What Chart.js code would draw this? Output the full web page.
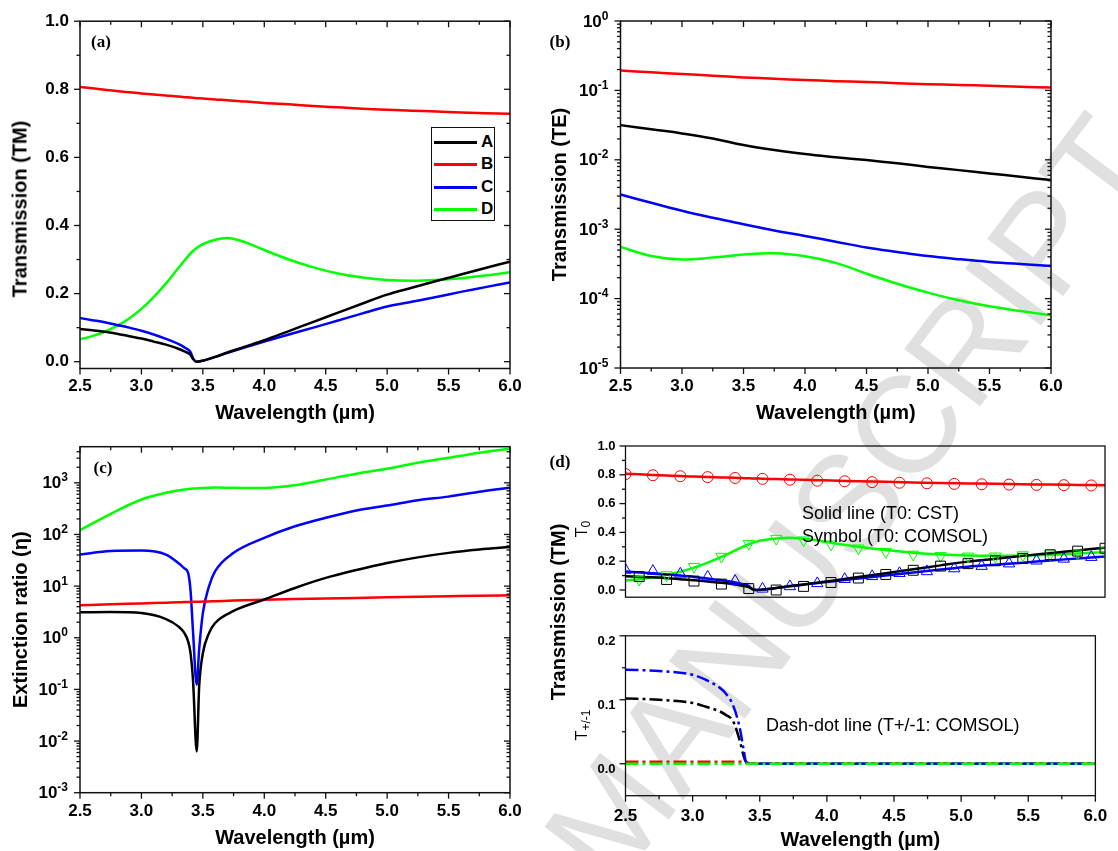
<!DOCTYPE html>
<html>
<head>
<meta charset="utf-8">
<title>Transmission and extinction ratio</title>
<script src="https://cdn.jsdelivr.net/npm/chart.js@4.4.1/dist/chart.umd.min.js"></script>
<style>
  body { margin: 0; background: #fff; width: 1118px; height: 851px; overflow: hidden; position: relative;
         font-family: Arial, "Liberation Sans", sans-serif; }
  canvas { position: absolute; z-index: 1; }
  .txt { position: absolute; z-index: 2; white-space: nowrap; color: #000; }
  .rot { transform: translate(-50%, -50%) rotate(-90deg); }
  .ctr { transform: translate(-50%, -50%); }
  .tag { font: bold 17px "Liberation Serif", "Times New Roman", serif; }
  .ytitle { font-weight: bold; font-size: 20px; }
  .sub { font-size: 16px; }
  .sub sub { font-size: 12px; vertical-align: -3px; }
  .note { font-size: 18px; transform: translateY(-50%); }
  #mark { position: absolute; z-index: 0; left: 850px; top: 500px; white-space: nowrap;
          transform: translate(-50%, -50%) rotate(-53deg);
          font: 138px Arial, "Liberation Sans", sans-serif; color: #e0e0e0; }
  #legendA { position: absolute; z-index: 2; left: 431px; top: 127px; width: 62px; height: 92px;
             border: 1px solid #111; background: #fff; }
  #legendA .row { position: absolute; left: 2px; height: 20px; width: 60px; }
  #legendA .ln { position: absolute; left: 0; top: 9px; width: 43px; height: 0; border-top: 3px solid; }
  #legendA .lb { position: absolute; left: 47px; top: 0; font: bold 17px Arial, "Liberation Sans", sans-serif; line-height: 20px; }
</style>
</head>
<body>
<div id="mark">MANUSCRIPT</div>

<canvas id="chartA" width="540" height="428" style="left:0;top:0"></canvas>
<canvas id="chartB" width="578" height="428" style="left:540px;top:0"></canvas>
<canvas id="chartC" width="540" height="431" style="left:0;top:420px"></canvas>
<canvas id="chartD1" width="578" height="195" style="left:540px;top:420px"></canvas>
<canvas id="chartD2" width="578" height="237" style="left:540px;top:618px"></canvas>

<div class="txt tag ctr" style="left:101px;top:42px">(a)</div>
<div class="txt tag ctr" style="left:560px;top:42px">(b)</div>
<div class="txt tag ctr" style="left:103px;top:468px">(c)</div>
<div class="txt tag ctr" style="left:560px;top:462px">(d)</div>

<div class="txt ytitle rot" style="left:20px;top:209px">Transmission (TM)</div>
<div class="txt ytitle rot" style="left:558px;top:612px">Transmission (TM)</div>
<div class="txt sub rot" style="left:583px;top:529px">T<sub>0</sub></div>
<div class="txt sub rot" style="left:583px;top:725px">T<sub>+/-1</sub></div>

<div class="txt note" style="left:802px;top:513px">Solid line (T0: CST)</div>
<div class="txt note" style="left:802px;top:536px">Symbol (T0: COMSOL)</div>
<div class="txt note" style="left:766px;top:725px">Dash-dot line (T+/-1: COMSOL)</div>

<div id="legendA"></div>

<script>
// ---- data ----
const seriesNames = ['A', 'B', 'C', 'D'];
const seriesColors = ['#000000', '#ff0000', '#0000ff', '#00ff00'];

// (a) TM transmission, also the solid lines of (d)
const wlA = [2.5, 2.6, 2.7, 2.8, 2.9, 3.0, 3.1, 3.2, 3.3, 3.35, 3.4, 3.42, 3.45, 3.5, 3.6, 3.7, 3.8, 3.9, 4.0, 4.2, 4.4, 4.6, 4.8, 5.0, 5.2, 5.4, 5.6, 5.8, 6.0];
const tmA = [0.096, 0.092, 0.088, 0.082, 0.075, 0.068, 0.059, 0.050, 0.038, 0.030, 0.020, 0.008, 0.000, 0.003, 0.014, 0.027, 0.039, 0.051, 0.063, 0.090, 0.117, 0.144, 0.171, 0.197, 0.217, 0.237, 0.256, 0.275, 0.294];
const tmB = [0.807, 0.803, 0.799, 0.795, 0.791, 0.788, 0.785, 0.782, 0.779, 0.777, 0.776, 0.775, 0.774, 0.773, 0.770, 0.768, 0.765, 0.763, 0.760, 0.756, 0.751, 0.747, 0.743, 0.740, 0.737, 0.735, 0.732, 0.730, 0.728];
const tmC = [0.128, 0.122, 0.116, 0.108, 0.100, 0.091, 0.080, 0.067, 0.052, 0.042, 0.028, 0.010, 0.000, 0.003, 0.014, 0.026, 0.037, 0.048, 0.059, 0.080, 0.100, 0.121, 0.142, 0.162, 0.176, 0.190, 0.205, 0.219, 0.233];
const tmD = [0.066, 0.075, 0.088, 0.105, 0.127, 0.155, 0.190, 0.230, 0.275, 0.297, 0.318, 0.325, 0.334, 0.345, 0.358, 0.363, 0.356, 0.343, 0.328, 0.300, 0.277, 0.259, 0.247, 0.240, 0.238, 0.240, 0.245, 0.253, 0.263];

// (b) TE transmission
const wlB = [2.5, 2.75, 3.0, 3.25, 3.5, 3.75, 4.0, 4.25, 4.5, 4.75, 5.0, 5.25, 5.5, 5.75, 6.0];
const teA = [0.0316, 0.0275, 0.0240, 0.0203, 0.0163, 0.0138, 0.0121, 0.0109, 0.0099, 0.0089, 0.0079, 0.0071, 0.00635, 0.0057, 0.0051];
const teB = [0.194, 0.182, 0.172, 0.163, 0.154, 0.147, 0.141, 0.136, 0.132, 0.127, 0.123, 0.120, 0.117, 0.113, 0.110];
const teC = [0.00316, 0.00240, 0.00184, 0.00146, 0.00118, 0.00096, 0.00080, 0.00066, 0.000545, 0.00047, 0.00041, 0.00037, 0.000338, 0.000315, 0.000296];
const teD = [0.000556, 0.00041, 0.000365, 0.00039, 0.000431, 0.000451, 0.000408, 0.000327, 0.000229, 0.000164, 0.000122, 0.0000946, 0.0000775, 0.0000664, 0.0000575];

// (c) extinction ratio
const wlC = [2.5, 2.75, 3.0, 3.2, 3.3, 3.35, 3.38, 3.4, 3.42, 3.45, 3.47, 3.5, 3.55, 3.6, 3.75, 4.0, 4.25, 4.5, 4.75, 5.0, 5.25, 5.5, 5.75, 6.0];
const erA = [3.1, 3.15, 3.0, 2.3, 1.66, 1.23, 0.85, 0.5, 0.15, 0.0063, 0.114, 0.5, 1.23, 1.93, 3.3, 5.5, 9.2, 14.4, 20.5, 28, 36, 44, 51, 57];
const erB = [4.25, 4.45, 4.62, 4.78, 4.85, 4.9, 4.92, 4.94, 4.95, 4.97, 4.99, 5.02, 5.06, 5.1, 5.25, 5.45, 5.6, 5.75, 5.9, 6.05, 6.2, 6.35, 6.5, 6.63];
const erC = [40.7, 48, 48.7, 40.7, 28, 22, 18, 8, 1.3, 0.123, 0.6, 3.0, 9.9, 19.4, 44, 86, 144, 210, 290, 363, 460, 540, 670, 800];
const erD = [121, 251, 475, 640, 710, 740, 755, 765, 772, 780, 785, 795, 805, 808, 800, 790, 900, 1160, 1500, 1870, 2445, 3050, 3820, 4570];

// (d) COMSOL symbols
const symOdd = [2.5, 2.7, 2.9, 3.1, 3.3, 3.5, 3.7, 3.9, 4.1, 4.3, 4.5, 4.7, 4.9, 5.1, 5.3, 5.5, 5.7, 5.9];
const symEven = [2.6, 2.8, 3.0, 3.2, 3.4, 3.6, 3.8, 4.0, 4.2, 4.4, 4.6, 4.8, 5.0, 5.2, 5.4, 5.6, 5.8, 6.0];
const symA = [0.093, 0.073, 0.062, 0.041, 0.010, 0.000, 0.025, 0.052, 0.083, 0.108, 0.137, 0.166, 0.183, 0.203, 0.220, 0.245, 0.270, 0.290];
const symB = [0.805, 0.797, 0.790, 0.784, 0.778, 0.772, 0.766, 0.759, 0.755, 0.749, 0.745, 0.741, 0.737, 0.734, 0.732, 0.730, 0.728, 0.726];
const symC = [0.139, 0.131, 0.112, 0.091, 0.062, 0.008, 0.025, 0.046, 0.075, 0.095, 0.116, 0.129, 0.149, 0.166, 0.183, 0.203, 0.216, 0.228];
const symD = [0.073, 0.104, 0.162, 0.232, 0.322, 0.357, 0.346, 0.317, 0.290, 0.266, 0.247, 0.237, 0.234, 0.234, 0.243, 0.249, 0.255, 0.270];

// (d) +/-1 diffraction orders
const wlOrd = [2.5, 2.75, 3.0, 3.1, 3.2, 3.25, 3.3, 3.35, 3.38, 3.4, 3.45, 6.0];
const ordA = [0.102, 0.100, 0.095, 0.089, 0.082, 0.076, 0.067, 0.037, 0.012, 0.002, 0, 0];
const ordB = [0.003, 0.003, 0.003, 0.003, 0.003, 0.003, 0.003, 0.003, 0.003, 0.002, 0, 0];
const ordC = [0.147, 0.145, 0.139, 0.131, 0.119, 0.109, 0.092, 0.057, 0.022, 0.002, 0, 0];
const ordD = [0, 0, 0, 0, 0, 0, 0, 0, 0, 0, 0, 0];

// axis ticks
const waveTicks = [2.5, 3.0, 3.5, 4.0, 4.5, 5.0, 5.5, 6.0];
const waveMinor = [2.75, 3.25, 3.75, 4.25, 4.75, 5.25, 5.75];
const tmTicks = [0, 0.2, 0.4, 0.6, 0.8, 1.0];
const tmMinor = [0.1, 0.3, 0.5, 0.7, 0.9];
const teDecades = [1e-5, 1e-4, 1e-3, 1e-2, 1e-1, 1];
const erDecades = [1e-3, 1e-2, 1e-1, 1, 10, 100, 1000];
const ordTicks = [0, 0.1, 0.2];
const ordMinor = [0.05, 0.15];

// ---- helpers ----
const FONT = 'Arial, "Liberation Sans", sans-serif';
Chart.defaults.font.family = FONT;
Chart.defaults.color = '#000';

const pts = (xs, ys) => xs.map((x, i) => ({ x: x, y: ys[i] }));

function logMinor(decades, max) {
  const out = [];
  decades.forEach(d => { for (let m = 2; m <= 9; m++) if (m * d < max) out.push(m * d); });
  return out;
}

// box frame, tick marks (outward on left/bottom, inward on top/right) and 10^n labels
function frameTicks(f) {
  return {
    id: 'frameTicks',
    afterDatasetsDraw(chart) {
      const { ctx, chartArea: a } = chart;
      const xs = chart.scales.x, ys = chart.scales.y;
      ctx.save();
      ctx.strokeStyle = '#111';
      ctx.lineWidth = f.frame || 1.5;
      ctx.strokeRect(a.left, a.top, a.right - a.left, a.bottom - a.top);
      ctx.lineWidth = 1.3;
      const seg = (x1, y1, x2, y2) => { ctx.beginPath(); ctx.moveTo(x1, y1); ctx.lineTo(x2, y2); ctx.stroke(); };
      const xSides = f.xSides || [], ySides = f.ySides || [];
      [[f.xMajor || [], 6], [f.xMinor || [], 3.5]].forEach(([vals, len]) => vals.forEach(v => {
        const p = xs.getPixelForValue(v);
        if (xSides.includes('bottom')) seg(p, a.bottom, p, a.bottom + len);
        if (xSides.includes('top')) seg(p, a.top, p, a.top + len);
      }));
      [[f.yMajor || [], 6], [f.yMinor || [], 3.5]].forEach(([vals, len]) => vals.forEach(v => {
        const p = ys.getPixelForValue(v);
        if (ySides.includes('left')) seg(a.left, p, a.left - len, p);
        if (ySides.includes('right')) seg(a.right, p, a.right - len, p);
      }));
      if (f.powLabels) {
        ctx.fillStyle = '#000';
        ys.ticks.forEach(t => {
          const p = ys.getPixelForValue(t.value);
          const exp = String(Math.round(Math.log10(t.value)));
          const right = a.left - f.powLabels;
          ctx.font = 'bold 12px ' + FONT;
          const wE = ctx.measureText(exp).width;
          ctx.textAlign = 'left';
          ctx.textBaseline = 'alphabetic';
          ctx.fillText(exp, right - wE, p - 1.5);
          ctx.font = 'bold 17px ' + FONT;
          ctx.textAlign = 'right';
          ctx.textBaseline = 'middle';
          ctx.fillText('10', right - wE, p + 1);
        });
      }
      ctx.restore();
    }
  };
}

function lineSet(xs, ys, color, extra) {
  return Object.assign({
    data: pts(xs, ys), borderColor: color, backgroundColor: color,
    borderWidth: 2.5, pointRadius: 0, cubicInterpolationMode: 'monotone', fill: false
  }, extra || {});
}

// smooth bezier for curves without a sharp dip
const smooth = { cubicInterpolationMode: 'default', tension: 0.4 };

function symbolSet(xs, ys, color, style, radius, rotation) {
  return {
    data: pts(xs, ys), showLine: false, borderColor: color,
    pointStyle: style, pointRadius: radius, pointRotation: rotation || 0,
    pointBorderColor: color, pointBackgroundColor: 'rgba(0,0,0,0)', pointBorderWidth: 1
  };
}

function waveAxis(s) {
  return {
    type: 'linear', min: 2.5, max: 6.0, display: s.show !== false,
    grid: { display: false, drawTicks: false }, border: { display: false },
    afterBuildTicks: sc => { sc.ticks = waveTicks.map(v => ({ value: v })); },
    afterFit: sc => { sc.height = s.height; },
    ticks: { font: { size: 17, weight: 'bold' }, padding: s.pad, maxRotation: 0, autoSkip: false,
             callback: v => v.toFixed(1) },
    title: { display: true, text: 'Wavelength (\u00B5m)', font: { size: 20, weight: 'bold' },
             padding: { top: 0, bottom: s.titlePad } }
  };
}

function valueAxis(s) {
  return {
    type: s.log ? 'logarithmic' : 'linear', min: s.min, max: s.max,
    grid: { display: false, drawTicks: false }, border: { display: false },
    afterBuildTicks: sc => { sc.ticks = s.major.map(v => ({ value: v })); },
    afterFit: sc => { sc.width = s.width; },
    ticks: { display: !s.log, font: { size: s.size || 17, weight: 'bold' }, padding: s.pad, autoSkip: false,
             labelOffset: s.labelOffset || 0, callback: v => v.toFixed(1) },
    title: { display: !!s.title, text: s.title || '', font: { size: 20, weight: 'bold' },
             padding: { top: s.titlePad || 0, bottom: 0 } }
  };
}

function panel(id, spec) {
  return new Chart(document.getElementById(id), {
    type: 'line',
    data: { datasets: spec.datasets },
    options: {
      responsive: false, animation: false, devicePixelRatio: 1,
      layout: { padding: spec.padding },
      plugins: { legend: { display: false }, tooltip: { enabled: false } },
      scales: { x: spec.x, y: spec.y }
    },
    plugins: [frameTicks(spec.frame)]
  });
}

const colorOf = i => seriesColors[i];
const tmLines = () => [tmA, tmB, tmC, tmD].map((ys, i) => lineSet(wlA, ys, colorOf(i), i === 3 ? smooth : null));

// (a) TM transmission
panel('chartA', {
  padding: { left: 0, top: 21, right: 30, bottom: 0 },
  datasets: tmLines(),
  x: waveAxis({ height: 59.5, pad: 8, titlePad: 3 }),
  y: valueAxis({ min: -0.02, max: 1.0, major: tmTicks, width: 80, pad: 11 }),
  frame: { xMajor: waveTicks, xMinor: waveMinor, yMajor: tmTicks, yMinor: tmMinor,
           xSides: ['bottom', 'top'], ySides: ['left', 'right'] }
});

// (b) TE transmission, log scale
panel('chartB', {
  padding: { left: 0, top: 21, right: 67, bottom: 0 },
  datasets: [teA, teB, teC, teD].map((ys, i) => lineSet(wlB, ys, colorOf(i), smooth)),
  x: waveAxis({ height: 60, pad: 8, titlePad: 3 }),
  y: valueAxis({ log: true, min: 1e-5, max: 1, major: teDecades, width: 80.5, pad: 12,
                 title: 'Transmission (TE)', titlePad: 8 }),
  frame: { xMajor: waveTicks, xMinor: waveMinor, yMajor: teDecades, yMinor: logMinor(teDecades, 1),
           xSides: ['bottom', 'top'], ySides: ['left', 'right'], powLabels: 12 }
});

// (c) extinction ratio, log scale
panel('chartC', {
  padding: { left: 0, top: 26.7, right: 30, bottom: 0 },
  datasets: [erA, erB, erC, erD].map((ys, i) => lineSet(wlC, ys, colorOf(i))),
  x: waveAxis({ height: 58.3, pad: 8.5, titlePad: 1 }),
  y: valueAxis({ log: true, min: 1e-3, max: 5000, major: erDecades, width: 80, pad: 12,
                 title: 'Extinction ratio (\u03B7)', titlePad: 9.5 }),
  frame: { xMajor: waveTicks, xMinor: waveMinor, yMajor: erDecades, yMinor: logMinor(erDecades, 5000),
           xSides: ['bottom', 'top'], ySides: ['left', 'right'], powLabels: 12 }
});

// (d) upper: zeroth order, CST lines and COMSOL symbols
panel('chartD1', {
  padding: { left: 0, top: 26, right: 13, bottom: 0 },
  datasets: [
    symbolSet(symEven, symA, colorOf(0), 'rect', 7),
    symbolSet(symOdd, symB, colorOf(1), 'circle', 5.5),
    symbolSet(symOdd, symC, colorOf(2), 'triangle', 6.5),
    symbolSet(symEven, symD, colorOf(3), 'triangle', 6.5, 180),
    ...tmLines()
  ],
  x: waveAxis({ show: false, height: 0, pad: 0, titlePad: 0 }),
  y: valueAxis({ min: -0.05, max: 1.0, major: tmTicks, width: 85.5, pad: 10, size: 13 }),
  frame: { frame: 1.3, yMajor: tmTicks, yMinor: tmMinor, ySides: ['left'] }
});

// (d) lower: +/-1 orders, dash-dot
const dashDot = [13, 4, 3, 4];
panel('chartD2', {
  padding: { left: 0, top: 9, right: 13, bottom: 0 },
  datasets: [[ordD, 3], [ordC, 2], [ordA, 0], [ordB, 1]].map(([ys, i]) =>
    lineSet(wlOrd, ys, colorOf(i), { borderDash: dashDot })),
  x: waveAxis({ height: 59.3, pad: 10.8, titlePad: 2.3 }),
  y: valueAxis({ min: -0.05, max: 0.2, major: ordTicks, width: 85.5, pad: 10, size: 13, labelOffset: 6 }),
  frame: { frame: 1.3, xMajor: waveTicks, xMinor: waveMinor, yMajor: ordTicks, yMinor: ordMinor,
           xSides: ['bottom'], ySides: ['left'] }
});

// legend for (a)
const legend = document.getElementById('legendA');
seriesNames.forEach((name, i) => {
  const row = document.createElement('div');
  row.className = 'row';
  row.style.top = (4 + i * 22.3) + 'px';
  row.innerHTML = '<div class="ln" style="border-color:' + seriesColors[i] + '"></div><div class="lb">' + name + '</div>';
  legend.appendChild(row);
});
</script>
</body>
</html>
